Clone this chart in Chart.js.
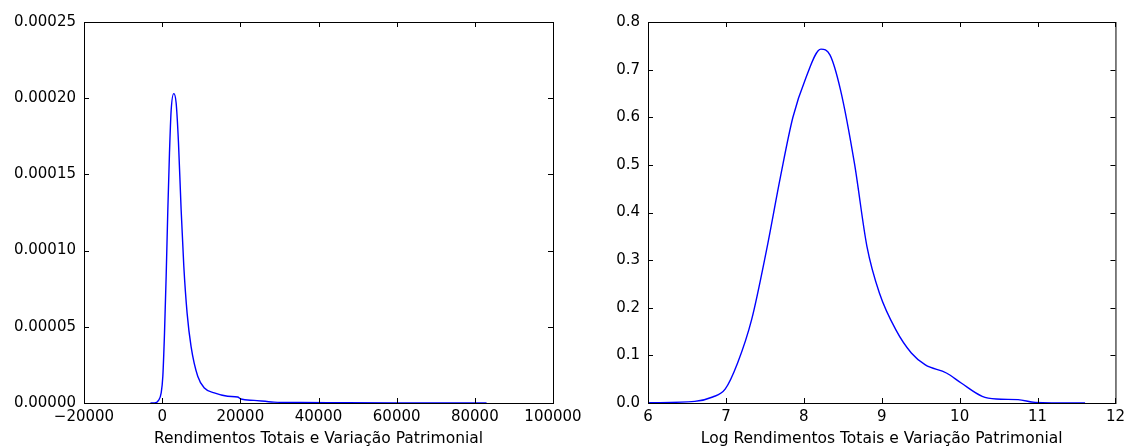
<!DOCTYPE html>
<html>
<head>
<meta charset="utf-8">
<script src="https://cdn.jsdelivr.net/npm/chart.js@4.4.1/dist/chart.umd.min.js"></script>
<style>
  html, body { margin: 0; padding: 0; background: #fff; }
  #wrap { position: relative; width: 1130px; height: 448px; overflow: hidden; }
  .box { position: absolute; top: 0; height: 448px; }
  #leftBox { left: 0; width: 600px; }
  #rightBox { left: 580px; width: 550px; }
</style>
</head>
<body>
<div id="wrap">
  <div class="box" id="leftBox"><canvas id="leftChart"></canvas></div>
  <div class="box" id="rightBox"><canvas id="rightChart"></canvas></div>
</div>
<script>
// density of the raw values (left panel)
const incomeX = [-3000, -1960, -940, -255, 170, 600, 1020, 1450, 1870, 2300, 2980, 3570, 4170, 4850, 5530, 6380, 7400, 9100, 10800, 13340, 16750, 19300, 20140, 23500, 28600, 35400, 45000, 60000, 75000, 83000];
const incomeDensity = [0, 0, 1.7e-6, 6.6e-6, 1.75e-5, 4.6e-5, 8.3e-5, 1.27e-4, 1.64e-4, 1.92e-4, 2.03e-4, 1.97e-4, 1.71e-4, 1.27e-4, 9.0e-5, 5.9e-5, 3.7e-5, 1.75e-5, 9.8e-6, 6.6e-6, 4.4e-6, 3.9e-6, 2.6e-6, 1.7e-6, 6e-7, 3e-7, 2e-7, 1e-7, 1e-7, 0];

// density of the log values (right panel)
const logX = [6.0, 6.6, 6.83, 6.99, 7.15, 7.33, 7.52, 7.70, 7.86, 8.02, 8.22, 8.335, 8.47, 8.65, 8.81, 8.97, 9.18, 9.38, 9.56, 9.83, 10.02, 10.29, 10.47, 10.75, 10.97, 11.61];
const logDensity = [0.0005, 0.0035, 0.0126, 0.029, 0.084, 0.175, 0.32, 0.475, 0.600, 0.680, 0.743, 0.731, 0.658, 0.503, 0.329, 0.231, 0.154, 0.105, 0.080, 0.063, 0.042, 0.014, 0.0084, 0.007, 0.0014, 0];

// axis settings
const leftXTicks = { min: -20000, max: 100000, step: 20000 };
const leftYTicks = { min: 0, max: 0.00025, step: 0.00005 };
const rightXTicks = { min: 6, max: 12, step: 1 };
const rightYTicks = { min: 0, max: 0.8, step: 0.1 };

const leftTitle = 'Rendimentos Totais e Variação Patrimonial';
const rightTitle = 'Log Rendimentos Totais e Variação Patrimonial';

const TICK_FONT = { family: 'DejaVu Sans', size: 15 };
const TITLE_FONT = { family: 'DejaVu Sans', size: 15.5 };

// matplotlib-like frame with inward ticks on every side
const framePlugin = {
    id: 'frame',
    afterDraw(chart) {
        const c = chart.ctx;
        const a = chart.chartArea;
        const xs = chart.scales.x;
        const ys = chart.scales.y;
        c.save();
        c.strokeStyle = '#000';
        c.lineWidth = 1;
        c.strokeRect(a.left + 0.5, a.top + 0.5, a.right - a.left, a.bottom - a.top);
        c.beginPath();
        xs.ticks.forEach(t => {
            const px = Math.round(xs.getPixelForValue(t.value)) + 0.5;
            c.moveTo(px, a.bottom); c.lineTo(px, a.bottom - 5);
            c.moveTo(px, a.top); c.lineTo(px, a.top + 5);
        });
        ys.ticks.forEach(t => {
            const py = Math.round(ys.getPixelForValue(t.value)) + 0.5;
            c.moveTo(a.left, py); c.lineTo(a.left + 5, py);
            c.moveTo(a.right, py); c.lineTo(a.right - 5, py);
        });
        c.stroke();
        c.restore();
    }
};

function makeChart(id, xs, ys, xt, yt, title, yWidth, padRight, yFmt, xFmt) {
    const ctx = document.getElementById(id).getContext('2d');
    return new Chart(ctx, {
        type: 'line',
        data: {
            datasets: [{
                data: xs.map((x, i) => ({ x: x, y: ys[i] })),
                borderColor: '#0000ff',
                borderWidth: 1.4,
                pointRadius: 0,
                fill: false,
                cubicInterpolationMode: 'monotone'
            }]
        },
        options: {
            responsive: true,
            maintainAspectRatio: false,
            animation: false,
            layout: { padding: { left: 0, top: 22, right: padRight, bottom: 0 } },
            plugins: { legend: { display: false }, tooltip: { enabled: false } },
            scales: {
                x: {
                    type: 'linear',
                    min: xt.min, max: xt.max,
                    afterFit: s => { s.height = 45; },
                    grid: { display: false, drawTicks: false },
                    border: { display: false },
                    ticks: {
                        stepSize: xt.step,
                        color: '#000',
                        font: TICK_FONT,
                        padding: 5,
                        maxRotation: 0,
                        autoSkip: false,
                        callback: xFmt
                    },
                    title: { display: true, text: title, color: '#000', font: TITLE_FONT, padding: { top: 0, bottom: 0 } }
                },
                y: {
                    type: 'linear',
                    min: yt.min, max: yt.max,
                    afterFit: s => { s.width = yWidth; },
                    grid: { display: false, drawTicks: false },
                    border: { display: false },
                    ticks: {
                        stepSize: yt.step,
                        color: '#000',
                        font: TICK_FONT,
                        padding: 8,
                        autoSkip: false,
                        callback: yFmt
                    }
                }
            }
        },
        plugins: [framePlugin]
    });
}

const minus = v => (v < 0 ? '\u2212' + Math.abs(v) : String(v));

makeChart('leftChart', incomeX, incomeDensity, leftXTicks, leftYTicks, leftTitle, 84, 47,
    v => v.toFixed(5), v => minus(Math.round(v)));
makeChart('rightChart', logX, logDensity, rightXTicks, rightYTicks, rightTitle, 68, 13,
    v => v.toFixed(1), v => String(Math.round(v)));
</script>
</body>
</html>
